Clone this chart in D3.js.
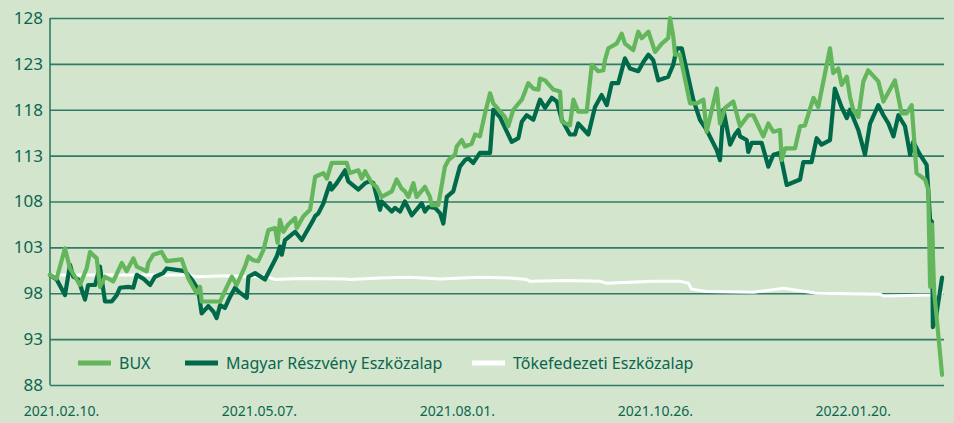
<!DOCTYPE html>
<html lang="hu">

<head>
    <meta charset="UTF-8">
    <title>BUX - Magyar Részvény Eszközalap - Tőkefedezeti Eszközalap</title>
    <script src="https://d3js.org/d3.v7.min.js"></script>
    <style>
        body {
            margin: 0;
            background: #d3e5cc;
        }

        svg text {
            font-family: "Noto Sans", "Open Sans", sans-serif;
            fill: #0b6650;
        }
    </style>
</head>

<body>
    <div id="chart"></div>

    <script>
        // day offset from 2021-02-05, index value
        const startDate = "2021-02-05";
        const endDate = "2022-02-28";

        const bux = [
            [0, 100.0], [2.9, 99.6], [6.5, 102.9], [8.7, 100.7], [10.9, 99.8], [13.0, 98.9], [15.9, 100.7],
            [17.4, 102.5], [20.3, 101.8], [21.7, 98.7], [23.9, 99.8], [27.5, 99.3], [31.2, 101.3], [33.3, 100.4],
            [36.2, 101.8], [37.7, 100.9], [42.0, 100.4], [42.7, 101.3], [44.9, 102.2], [48.5, 102.5], [50.7, 101.5],
            [57.2, 101.7], [60.1, 99.6], [63.7, 98.0], [65.2, 98.7], [65.9, 97.1], [73.9, 97.1], [76.8, 98.7],
            [79.0, 99.8], [81.1, 98.9], [84.7, 100.9], [86.2, 102.0], [88.3, 101.6], [90.5, 101.5], [92.7, 102.7],
            [94.9, 104.9], [97.8, 105.1], [98.9, 103.5], [99.9, 106.0], [101.4, 104.7], [103.5, 105.5], [106.5, 106.2],
            [107.2, 105.1], [110.1, 106.4], [113.0, 107.1], [115.2, 110.7], [118.8, 111.1], [120.3, 110.5],
            [122.4, 112.2], [128.9, 112.2], [130.3, 111.1], [134.0, 111.4], [135.4, 110.5], [136.9, 111.3],
            [139.8, 110.0], [141.9, 109.6], [144.1, 108.5], [148.5, 109.1], [150.6, 110.4], [152.8, 109.4],
            [154.2, 109.1], [155.7, 108.5], [157.9, 110.0], [159.3, 108.5], [162.9, 109.6], [165.1, 108.5],
            [165.8, 107.6], [168.7, 107.6], [171.6, 111.8], [173.1, 112.5], [176.0, 113.1], [176.7, 114.0],
            [178.9, 114.7], [180.3, 114.0], [183.2, 114.3], [184.7, 115.3], [186.8, 115.1], [189.0, 117.6],
            [191.2, 119.8], [192.6, 118.7], [197.7, 117.2], [199.1, 116.2], [201.3, 118.0], [205.0, 119.1],
            [207.8, 120.9], [210.0, 120.3], [212.2, 120.2], [212.9, 121.4], [215.1, 121.2], [218.7, 120.2],
            [221.6, 120.0], [222.4, 116.7], [225.9, 116.3], [227.4, 119.1], [229.5, 117.8], [233.2, 117.8],
            [235.4, 122.9], [238.2, 122.2], [240.4, 122.3], [241.1, 123.4], [242.6, 124.7], [246.2, 125.2],
            [248.4, 126.3], [249.8, 125.2], [253.4, 124.5], [255.6, 126.5], [257.1, 125.8], [260.0, 126.5],
            [262.9, 124.3], [265.8, 125.2], [268.6, 125.8], [269.4, 128.0], [270.8, 126.0], [271.6, 124.0],
            [273.7, 124.0], [278.1, 118.7], [281.0, 118.7], [283.9, 119.1], [285.3, 115.6], [289.7, 120.3],
            [291.1, 116.5], [293.3, 118.2], [296.9, 118.9], [299.8, 116.2], [303.4, 117.4], [305.6, 117.4],
            [309.9, 115.1], [312.1, 116.5], [314.3, 115.6], [317.2, 115.8], [317.9, 112.5], [319.4, 113.8],
            [323.7, 113.8], [325.9, 116.2], [328.0, 116.3], [331.7, 119.3], [333.8, 118.3], [338.9, 124.7],
            [340.3, 122.0], [342.5, 122.5], [344.0, 120.7], [346.2, 121.6], [347.6, 119.4], [349.0, 118.0],
            [351.2, 117.2], [353.4, 121.1], [355.5, 122.3], [359.9, 121.1], [362.1, 118.9], [367.1, 121.2],
            [370.0, 117.6], [372.2, 117.6], [374.4, 118.5], [376.5, 111.1], [380.2, 110.4], [381.6, 109.3],
            [382.4, 98.7], [383.2, 105.5], [384.1, 98.4], [387.6, 89.1]
        ];

        const magyar = [
            [0, 100.0], [2.9, 99.5], [6.5, 97.8], [8.7, 101.1], [10.1, 99.8], [12.3, 99.5], [15.2, 97.3],
            [16.6, 98.9], [19.6, 98.9], [21.7, 100.9], [23.9, 97.1], [26.8, 97.1], [29.0, 97.8], [30.4, 98.6],
            [34.0, 98.7], [36.2, 98.6], [37.7, 100.0], [40.5, 99.6], [43.5, 98.9], [45.6, 99.8], [49.2, 100.2],
            [50.7, 100.7], [56.5, 100.5], [58.7, 100.4], [61.6, 99.5], [64.4, 98.4], [65.9, 95.8], [68.8, 96.6],
            [71.0, 96.0], [72.4, 95.3], [73.9, 96.7], [76.0, 96.4], [78.2, 97.6], [80.4, 98.6], [81.8, 98.2],
            [85.5, 97.5], [86.2, 99.8], [89.1, 100.2], [93.4, 99.5], [98.5, 102.0], [99.9, 103.1], [100.7, 102.2],
            [102.1, 103.8], [105.0, 104.4], [106.5, 104.7], [109.4, 103.8], [114.4, 106.0], [115.2, 106.4],
            [116.6, 106.7], [118.8, 107.8], [120.2, 108.9], [121.7, 110.0], [122.4, 109.3], [124.6, 110.0],
            [128.2, 111.4], [129.6, 110.2], [134.0, 109.3], [136.9, 110.0], [139.0, 110.2], [140.5, 110.0],
            [143.4, 107.1], [144.1, 108.0], [148.5, 106.9], [149.9, 107.3], [152.1, 106.9], [154.2, 108.0],
            [157.2, 106.5], [161.5, 107.8], [162.9, 106.9], [164.4, 107.4], [167.3, 107.3], [169.5, 106.7],
            [170.9, 105.6], [172.4, 108.5], [175.2, 109.1], [178.1, 111.8], [180.3, 112.5], [181.8, 112.7],
            [183.9, 112.2], [186.8, 113.3], [191.2, 113.3], [192.6, 118.0], [195.5, 117.2], [200.6, 114.5],
            [203.5, 114.9], [205.0, 116.7], [207.1, 117.4], [210.0, 116.9], [212.9, 119.1], [215.1, 118.2],
            [218.0, 119.3], [220.2, 118.9], [222.4, 116.9], [225.9, 115.3], [228.1, 115.3], [229.5, 116.5],
            [233.9, 115.3], [236.8, 118.3], [239.7, 119.6], [241.9, 118.5], [244.1, 120.9], [246.9, 120.9],
            [249.8, 123.6], [252.0, 122.5], [255.6, 122.2], [257.8, 123.2], [260.0, 124.0], [262.1, 123.4],
            [264.3, 121.2], [268.6, 121.6], [270.8, 122.9], [272.3, 124.7], [274.5, 124.7], [279.5, 119.1],
            [282.4, 116.9], [285.3, 115.8], [289.7, 113.6], [291.1, 112.5], [292.6, 118.0], [295.5, 114.2],
            [297.6, 115.3], [299.1, 115.8], [299.8, 115.1], [302.7, 114.7], [303.4, 113.4], [304.9, 114.4],
            [309.2, 114.4], [312.1, 111.8], [314.3, 113.1], [317.2, 113.3], [320.1, 109.8], [325.9, 110.4],
            [327.3, 112.3], [330.9, 112.3], [333.1, 114.9], [335.2, 114.2], [338.9, 114.7], [341.0, 120.3],
            [343.9, 118.3], [346.2, 117.1], [347.6, 118.0], [351.2, 115.8], [354.1, 113.1], [356.3, 116.5],
            [359.9, 118.5], [362.1, 117.4], [364.3, 116.5], [366.5, 115.1], [368.6, 117.4], [371.5, 116.2],
            [373.7, 113.1], [375.1, 114.5], [378.0, 113.1], [380.9, 112.0], [382.4, 106.0], [383.2, 105.8],
            [383.6, 94.3], [384.9, 95.3], [387.6, 99.7]
        ];

        const tokefedezeti = [
            [0, 100.0], [30, 100.0], [60.8, 100.0], [63.0, 99.8], [77.3, 99.9], [94.7, 99.75], [97.8, 99.5],
            [108.6, 99.6], [128.2, 99.55], [130.3, 99.5], [143.4, 99.65], [156.4, 99.75], [169.5, 99.55],
            [186.8, 99.75], [199.9, 99.65], [207.1, 99.5], [208.6, 99.3], [224.5, 99.4], [239.0, 99.3],
            [241.9, 99.1], [262.1, 99.3], [273.7, 99.3], [277.3, 99.1], [278.8, 98.45], [285.3, 98.2],
            [305.6, 98.1], [318.6, 98.55], [333.1, 98.0], [360.6, 97.9], [362.1, 97.7], [382.4, 97.8],
            [387.6, 98.0]
        ];

        const yTicks = [88, 93, 98, 103, 108, 113, 118, 123, 128];
        const xTickLabels = ["2021.02.10.", "2021.05.07.", "2021.08.01.", "2021.10.26.", "2022.01.20."];

        const seriesNames = ["BUX", "Magyar Részvény Eszközalap", "Tőkefedezeti Eszközalap"];
        const seriesColors = ["#63b65c", "#00694a", "#ffffff"];

        const width = 954;
        const height = 423;
        const marginTop = 18;
        const marginRight = 10;
        const marginBottom = 38;
        const marginLeft = 50;

        const parse = d3.utcParse("%Y-%m-%d");
        const parseTick = d3.utcParse("%Y.%m.%d.");
        const t0 = parse(startDate);
        const toDate = day => new Date(+t0 + day * 864e5);

        const x = d3.scaleUtc()
            .domain([t0, parse(endDate)])
            .range([marginLeft, 943]);

        const y = d3.scaleLinear()
            .domain([88, 128])
            .range([height - marginBottom, marginTop]);

        const svg = d3.select("#chart").append("svg")
            .attr("width", width)
            .attr("height", height)
            .attr("viewBox", [0, 0, width, height]);

        svg.append("rect")
            .attr("width", width)
            .attr("height", height)
            .attr("fill", "#d3e5cc");

        // grid lines + y labels
        svg.append("g")
            .attr("transform", `translate(${marginLeft},0)`)
            .call(d3.axisLeft(y).tickValues(yTicks).tickSize(-(width - marginLeft - marginRight)).tickPadding(7))
            .call(g => g.select(".domain").remove())
            .call(g => g.selectAll(".tick line").attr("stroke", "#2f7b63").attr("stroke-width", 1.6))
            .call(g => g.selectAll(".tick text").attr("font-size", 17));

        svg.append("line")
            .attr("x1", marginLeft).attr("x2", marginLeft)
            .attr("y1", y(128)).attr("y2", y(88))
            .attr("stroke", "#2f7b63")
            .attr("stroke-width", 1.6);

        // x labels
        svg.append("g")
            .selectAll("text")
            .data(xTickLabels)
            .join("text")
            .attr("x", d => x(parseTick(d)))
            .attr("y", 416)
            .attr("text-anchor", "middle")
            .attr("font-size", 14)
            .text(d => d);

        const line = d3.line()
            .x(d => x(toDate(d[0])))
            .y(d => y(d[1]));

        const drawOrder = [
            [tokefedezeti, 2, 3],
            [magyar, 1, 4.2],
            [bux, 0, 4.2]
        ];

        svg.append("g")
            .attr("fill", "none")
            .attr("stroke-linejoin", "round")
            .attr("stroke-linecap", "round")
            .selectAll("path")
            .data(drawOrder)
            .join("path")
            .attr("stroke", d => seriesColors[d[1]])
            .attr("stroke-width", d => d[2])
            .attr("d", d => line(d[0]));

        // legend
        const legendX = [78, 185, 472];
        const legend = svg.append("g")
            .selectAll("g")
            .data(seriesNames)
            .join("g")
            .attr("transform", (d, i) => `translate(${legendX[i]},363)`);

        legend.append("line")
            .attr("x1", 0).attr("x2", 33)
            .attr("stroke", (d, i) => seriesColors[i])
            .attr("stroke-width", 5);

        legend.append("text")
            .attr("x", 41)
            .attr("y", 6)
            .attr("font-size", 16)
            .text(d => d);
    </script>
</body>

</html>
